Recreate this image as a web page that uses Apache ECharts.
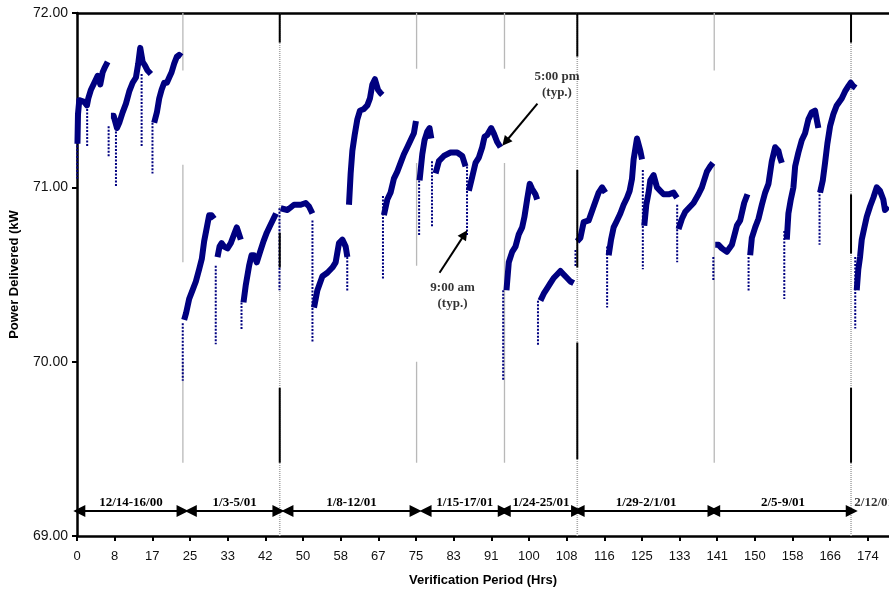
<!DOCTYPE html>
<html><head><meta charset="utf-8">
<script src="https://cdn.jsdelivr.net/npm/echarts@6/dist/echarts.min.js"></script>
<style>html,body{margin:0;padding:0;background:#fff}#c{width:889px;height:594px}</style>
</head><body><div id="c"></div>
<script>
// ---- tick labels ----
const xStep = 25 / 3;
const xTickLabels = ['0','8','17','25','33','42','50','58','67','75','83','91','100','108','116','125','133','141','150','158','166','174'];
const xMax = 179.67;

// ---- measured daily traces [hour, kW] ----
const w1d1 = [[0.1,71.25],[0.22,71.42],[0.5,71.50],[0.88,71.50],[1.6,71.49],[2.2,71.47],[2.5,71.51],[3.09,71.56],[3.83,71.60],[4.57,71.64],[5.15,71.59],[5.68,71.66],[6.19,71.69],[6.78,71.72]];
const w1d2 = [[7.51,71.41],[8.11,71.41],[8.84,71.34],[9.35,71.37],[10.1,71.43],[10.83,71.48],[11.56,71.55],[12.31,71.60],[13.04,71.63],[13.55,71.71],[13.99,71.80],[14.52,71.72],[15.03,71.70],[15.62,71.67],[16.35,71.65]];
const w1d3 = [[17.08,71.37],[17.68,71.43],[18.19,71.51],[18.72,71.56],[19.29,71.60],[19.89,71.60],[20.4,71.63],[20.93,71.66],[21.5,71.71],[22.1,71.75],[22.61,71.76],[23.14,71.75]];
const w2d1 = [[23.71,70.24],[24.15,70.28],[24.82,70.36],[25.57,70.41],[26.3,70.46],[27.03,70.53],[27.62,70.59],[28.13,70.69],[28.73,70.77],[29.24,70.84],[29.77,70.84],[30.34,70.82]];
const w2d2 = [[31.09,70.60],[31.54,70.66],[31.98,70.68],[32.55,70.66],[33.3,70.65],[34.03,70.68],[34.76,70.73],[35.36,70.77],[35.87,70.73],[36.24,70.70]];
const w2d3 = [[36.84,70.34],[37.35,70.44],[38.08,70.55],[38.61,70.61],[39.18,70.61],[39.78,70.57],[40.51,70.63],[41.26,70.69],[41.99,70.74],[42.72,70.78],[43.47,70.82],[44.04,70.85]];
const w3d1 = [[45.08,70.88],[46.56,70.87],[48.02,70.90],[49.5,70.90],[50.61,70.91],[51.34,70.89],[52.09,70.85]];
const w3d2 = [[52.44,70.31],[53.19,70.41],[54.3,70.49],[55.4,70.51],[56.51,70.54],[57.24,70.57],[57.97,70.68],[58.72,70.70],[59.45,70.66],[59.82,70.60]];
const w3d3 = [[60.18,70.90],[60.55,71.08],[60.93,71.21],[61.44,71.30],[62.03,71.39],[62.61,71.44],[63.49,71.45],[64.24,71.47],[64.82,71.51],[65.35,71.59],[65.92,71.62],[66.59,71.56],[67.18,71.54],[67.56,71.53]];
const w3d4 = [[67.91,70.84],[68.66,70.93],[69.39,70.97],[70.12,71.05],[70.87,71.09],[71.6,71.14],[72.33,71.19],[73.08,71.23],[73.81,71.27],[74.54,71.31],[75.0,71.38]];
const w4d1 = [[75.8,71.04],[76.4,71.19],[76.9,71.27],[77.5,71.32],[78.0,71.34],[78.4,71.28]];
const w4d2 = [[79.34,71.08],[80.07,71.15],[81.17,71.18],[82.65,71.20],[84.13,71.20],[85.24,71.18],[85.97,71.12]];
const w4d3 = [[86.7,70.98],[87.45,71.06],[88.18,71.14],[88.91,71.17],[89.66,71.23],[90.17,71.29],[90.76,71.30],[91.65,71.34],[92.22,71.31],[92.97,71.26],[93.7,71.23]];
const w5d1 = [[95.03,70.41],[95.54,70.57],[96.29,70.63],[97.02,70.66],[97.75,70.73],[98.5,70.77],[99.0,70.83],[99.6,70.93],[100.18,71.02],[100.71,70.99],[101.44,70.96],[101.81,70.93]];
const w5d2 = [[102.54,70.35],[103.27,70.39],[104.02,70.42],[104.75,70.45],[105.48,70.48],[106.23,70.50],[106.96,70.52],[107.69,70.50],[108.44,70.48],[109.17,70.46],[109.9,70.45]];
const w6d1 = [[110.65,70.69],[111.38,70.71],[112.11,70.80],[113.22,70.81],[114.32,70.89],[115.43,70.97],[116.18,71.00],[116.91,70.97]];
const w6d2 = [[117.64,70.61],[118.17,70.70],[118.74,70.77],[119.49,70.81],[120.22,70.85],[120.95,70.90],[121.7,70.94],[122.28,70.98],[122.81,71.05],[123.16,71.16],[123.91,71.28],[124.64,71.21],[125.02,71.16]];
const w6d3 = [[125.52,70.78],[125.97,70.90],[126.48,70.97],[126.85,71.04],[127.58,71.07],[128.33,71.00],[129.06,70.98],[129.79,70.96],[130.9,70.96],[132.0,70.97],[132.75,70.94]];
const w6d4 = [[133.1,70.76],[133.85,70.82],[134.59,70.86],[135.32,70.88],[136.42,70.91],[137.52,70.96],[138.27,71.00],[138.63,71.03],[139.38,71.09],[140.11,71.12],[140.71,71.14]];
const w7d1 = [[141.22,70.67],[141.95,70.67],[142.7,70.65],[143.8,70.63],[144.91,70.67],[146.01,70.78],[146.74,70.81],[147.62,70.91],[148.35,70.96]];
const w7d2 = [[148.95,70.61],[149.32,70.71],[150.06,70.77],[150.79,70.82],[151.54,70.90],[152.27,70.97],[153.0,71.02],[153.74,71.15],[154.48,71.23],[155.2,71.21],[155.58,71.17],[155.96,71.14]];
const w7d3 = [[157.06,70.70],[157.41,70.85],[157.94,70.93],[158.52,71.00],[158.9,71.12],[159.62,71.20],[160.37,71.27],[161.1,71.31],[161.83,71.39],[162.58,71.43],[163.31,71.44],[163.82,71.37],[164.04,71.34]];
const w7d4 = [[164.42,70.97],[165.02,71.04],[165.52,71.14],[166.03,71.25],[166.63,71.35],[167.36,71.42],[168.11,71.47],[169.21,71.51],[169.94,71.55],[170.67,71.58],[171.2,71.60],[171.78,71.58],[172.3,71.57]];
const w8d1 = [[172.53,70.41],[172.88,70.53],[173.26,70.60],[173.64,70.70],[174.14,70.76],[174.74,70.83],[175.47,70.89],[176.2,70.94],[176.95,71.00],[177.68,70.98],[178.41,70.93],[178.78,70.87],[179.51,70.89]];

// start-of-day / sudden dips: [hour, top kW, bottom kW]
const dips = [[0.05,71.30,71.05],[2.25,71.45,71.23],[7.0,71.35,71.17],[8.62,71.34,71.0],[14.3,71.65,71.23],[16.7,71.37,71.08],
  [23.4,70.22,69.89],[30.7,70.55,70.10],[36.4,70.34,70.18],[44.8,70.88,70.41],[52.1,70.81,70.11],[59.8,70.6,70.4],[67.7,70.95,70.47],
  [75.7,71.12,70.72],[78.55,71.15,70.77],[86.3,71.12,70.72],[94.3,70.41,69.89],[102.0,70.35,70.09],[110.3,70.64,70.54],
  [117.3,70.66,70.31],[125.2,71.1,70.53],[132.8,70.9,70.57],[140.8,70.6,70.46],[148.6,70.6,70.40],[156.5,70.75,70.36],
  [164.3,71.0,70.67],[172.2,70.6,70.19]];

// separators
const grayLineX = [23.43, 75.14, 94.59, 141.0];
const grayLineSegs = [[[72,71.67],[71.13,70.57],[70.0,69.42]],[[72,71.68],[71.14,70.55],[70.0,69.42]],[[72,71.68],[71.14,69.42]],[[72,71.67],[71.13,69.42]]];
const blackLineX = [44.86, 110.7, 171.27];
const blackLineSegs = [[[72,71.83],[70.74,70.54],[69.85,69.42]],[[72,71.75],[71.10,70.54],[70.11,69.44]],[[72,71.83],[70.96,70.62],[69.85,69.42]]];

// period arrows
const periodNames = ['12/14-16/00','1/3-5/01','1/8-12/01','1/15-17/01','1/24-25/01','1/29-2/1/01','2/5-9/01','2/12/01'];
const periodFrom = [0.51, 25.19, 46.56, 77.13, 94.65, 111.0, 140.99, 176.4];
const periodTo   = [23.36, 44.57, 74.92, 94.43, 110.65, 140.84, 171.43, null];
const arrowY = 69.143;

// annotations
const noteTexts = ['5:00 pm\n(typ.)', '9:00 am\n(typ.)'];
const notePos = [[106.2, 71.59], [83.09, 70.38]];
const noteArrowFrom = [[101.88, 71.48], [80.22, 70.51]];
const noteArrowTo = [[94.81, 71.26], [85.75, 70.73]];

const navy = '#000080';
const serif = 'Liberation Serif';
const sans = 'Liberation Sans';
const series = [];

function seg(x, a, b, style, z) {
  series.push({type:'line', data:[[x,a],[x,b]], symbol:'none', lineStyle:style, z:z, silent:true});
}
grayLineX.forEach((x,i)=>grayLineSegs[i].forEach(s=>seg(x,s[0],s[1],{color:'#b8b8b8',width:1.3},1)));
blackLineX.forEach((x,i)=>{
  seg(x,72,69,{color:'#a8a8a8',width:1.6,type:[1,1]},1);
  blackLineSegs[i].forEach(s=>seg(x,s[0],s[1],{color:'#000',width:2},5));
});
[w1d1,w1d2,w1d3,w2d1,w2d2,w2d3,w3d1,w3d2,w3d3,w3d4,w4d1,w4d2,w4d3,w5d1,w5d2,w6d1,w6d2,w6d3,w6d4,w7d1,w7d2,w7d3,w7d4,w8d1].forEach(d=>{
  series.push({type:'line', data:d, symbol:'none', lineStyle:{color:navy,width:6,join:'round',cap:'butt'}, z:3, silent:true});
});
dips.forEach(d=>seg(d[0],d[1],d[2],{color:navy,width:2,type:[2,1.5]},3));

const labelStyle = {color:'#000', fontFamily:serif, fontWeight:'bold', fontSize:13};
series.push({
  type:'line', data:[], symbol:'none', silent:true, z:6,
  markLine:{
    silent:true, animation:false,
    symbol:['triangle','triangle'], symbolSize:12,
    lineStyle:{color:'#000', width:2, type:'solid'},
    label:Object.assign({show:true, position:'insideMiddleTop', distance:2, formatter:p=>p.name}, labelStyle),
    data: periodNames.slice(0,7).map((n,i)=>[{name:n, coord:[periodFrom[i],arrowY]},{coord:[periodTo[i],arrowY]}])
  }
});
series.push({
  type:'line', data:[], symbol:'none', silent:true, z:6,
  markLine:{
    silent:true, animation:false,
    symbol:['none','triangle'], symbolSize:10,
    lineStyle:{color:'#000', width:2, type:'solid'},
    label:{show:false},
    data: noteArrowFrom.map((f,i)=>[{coord:f},{coord:noteArrowTo[i]}])
  }
});
series.push({
  type:'scatter', symbolSize:0, silent:true, z:6,
  data: notePos.map((p,i)=>({value:p, name:noteTexts[i]})),
  label:Object.assign({show:true, position:'inside', formatter:p=>p.name, lineHeight:16, align:'center'}, labelStyle)
});
series.push({
  type:'scatter', symbolSize:0, silent:true, z:6,
  data:[{value:[periodFrom[7], arrowY], name:periodNames[7]}],
  label:Object.assign({show:true, position:'top', distance:2, formatter:p=>p.name}, labelStyle)
});

const chart = echarts.init(document.getElementById('c'), null, {renderer:'canvas'});
chart.setOption({
  animation:false,
  backgroundColor:'#fff',
  grid:{left:76, top:13, right:0, bottom:58},
  xAxis:[{
    type:'value', min:0, max:xMax, interval:xStep,
    name:'Verification Period (Hrs)', nameLocation:'middle', nameGap:38,
    nameTextStyle:{fontFamily:sans, fontWeight:'bold', fontSize:13, color:'#000'},
    axisLine:{show:true, onZero:false, lineStyle:{color:'#000', width:2.5}},
    axisTick:{show:true, length:5, lineStyle:{color:'#000', width:2}},
    axisLabel:{margin:14, fontFamily:sans, fontSize:13, color:'#111', showMaxLabel:false,
      formatter:v=>{const i=Math.round(v/xStep); return Math.abs(v-i*xStep)<1e-6 ? (xTickLabels[i]||'') : '';}},
    splitLine:{show:false}
  },{
    type:'value', position:'top', min:0, max:xMax,
    axisLine:{show:true, lineStyle:{color:'#000', width:2.5}},
    axisTick:{show:false}, axisLabel:{show:false}, splitLine:{show:false}
  }],
  yAxis:{
    type:'value', min:69, max:72, interval:1,
    name:'Power Delivered (kW', nameLocation:'middle', nameGap:56,
    nameTextStyle:{fontFamily:sans, fontWeight:'bold', fontSize:13, color:'#000'},
    axisLine:{show:true, lineStyle:{color:'#000', width:2.5}},
    axisTick:{show:true, length:5, lineStyle:{color:'#000', width:2}},
    axisLabel:{margin:9, fontFamily:sans, fontSize:14, color:'#111', formatter:v=>v.toFixed(2)},
    splitLine:{show:false}
  },
  series:series
});
</script></body></html>
